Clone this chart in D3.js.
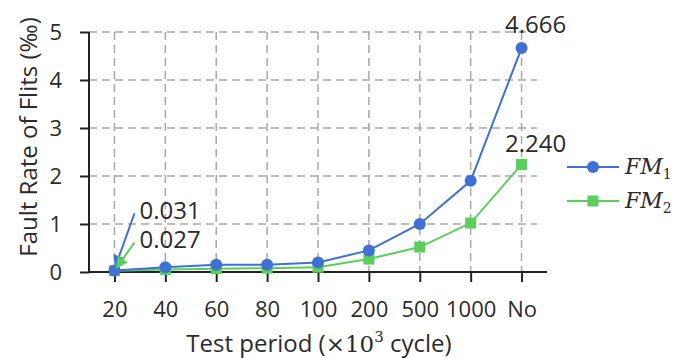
<!DOCTYPE html>
<html>
<head>
<meta charset="utf-8">
<script src="https://cdn.jsdelivr.net/npm/d3@7"></script>
<style>
  body { margin: 0; background: #fff; }
  .chart text { font-family: "Open Sans", sans-serif; fill: #2b2b2b; }
  .legend text { font-family: "DejaVu Serif", "Liberation Serif", serif; font-style: italic; }
</style>
</head>
<body>
<div class="chart"></div>
<script>
// data
var periods = ["20", "40", "60", "80", "100", "200", "500", "1000", "No"];
var fm1 = [0.031, 0.10, 0.15, 0.15, 0.20, 0.45, 1.00, 1.90, 4.666];
var fm2 = [0.027, 0.05, 0.07, 0.08, 0.10, 0.27, 0.52, 1.02, 2.240];
var yTicks = [0, 1, 2, 3, 4, 5];

var width = 688, height = 358;
var blue = "#3f70d6", green = "#5cce5c";

var svg = d3.select(".chart").append("svg").attr("width", width).attr("height", height);

var x = d3.scalePoint().domain(periods).range([89, 547]).padding(0.5);
var y = d3.scaleLinear().domain([0, 5]).range([272, 32]);

// grid
svg.append("g").selectAll("line").data(yTicks.slice(1)).enter().append("line")
    .attr("x1", 89).attr("x2", 537)
    .attr("y1", function (d) { return y(d); }).attr("y2", function (d) { return y(d); })
    .attr("stroke", "#a8a8a8").attr("stroke-width", 1.5).attr("stroke-dasharray", "8,5");
svg.append("g").selectAll("line").data(periods).enter().append("line")
    .attr("x1", function (d) { return x(d); }).attr("x2", function (d) { return x(d); })
    .attr("y1", y(5)).attr("y2", y(0))
    .attr("stroke", "#a8a8a8").attr("stroke-width", 1.5).attr("stroke-dasharray", "8,5");

// axes
var xAxis = svg.append("g").attr("transform", "translate(0," + y(0) + ")")
    .call(d3.axisBottom(x).tickSize(10).tickPadding(19));
var yAxis = svg.append("g").attr("transform", "translate(89,0)")
    .call(d3.axisLeft(y).tickValues(yTicks).tickFormat(d3.format("d")).tickSize(9).tickPadding(18));
[xAxis, yAxis].forEach(function (a) {
    a.select(".domain").remove();
    a.selectAll("line").attr("stroke", "#222").attr("stroke-width", 2);
    a.selectAll("text").attr("font-size", 22).attr("font-family", null);
});
svg.append("line").attr("x1", 89).attr("x2", 547).attr("y1", y(0)).attr("y2", y(0))
    .attr("stroke", "#222").attr("stroke-width", 2);
svg.append("line").attr("x1", 89).attr("x2", 89).attr("y1", y(5)).attr("y2", y(0))
    .attr("stroke", "#222").attr("stroke-width", 2);

// axis titles
var xt = svg.append("text").attr("x", 319).attr("y", 352).attr("text-anchor", "middle").attr("font-size", 24);
xt.append("tspan").text("Test period (");
xt.append("tspan").attr("font-family", "DejaVu Serif, serif").attr("font-size", 23).text("×10");
xt.append("tspan").attr("font-family", "DejaVu Serif, serif").attr("font-size", 15).attr("dy", -10).text("3");
xt.append("tspan").attr("dy", 10).text(" cycle)");

svg.append("text").attr("transform", "translate(37,137) rotate(-90)")
    .attr("text-anchor", "middle").attr("font-size", 24).text("Fault Rate of Flits (‰)");

// lines
var line = d3.line().x(function (d, i) { return x(periods[i]); }).y(function (d) { return y(d); });

svg.append("path").datum(fm2).attr("d", line).attr("fill", "none").attr("stroke", green).attr("stroke-width", 2);
svg.append("g").selectAll("rect").data(fm2).enter().append("rect")
    .attr("x", function (d, i) { return x(periods[i]) - 5.5; })
    .attr("y", function (d) { return y(d) - 5.5; })
    .attr("width", 11).attr("height", 11).attr("fill", green);

svg.append("path").datum(fm1).attr("d", line).attr("fill", "none").attr("stroke", blue).attr("stroke-width", 2);
svg.append("g").selectAll("circle").data(fm1).enter().append("circle")
    .attr("cx", function (d, i) { return x(periods[i]); })
    .attr("cy", function (d) { return y(d); })
    .attr("r", 6).attr("fill", blue);

// arrow markers
var defs = svg.append("defs");
[["arrowBlue", blue], ["arrowGreen", green]].forEach(function (m) {
    defs.append("marker").attr("id", m[0]).attr("viewBox", "0 0 10 10")
        .attr("refX", 9).attr("refY", 5).attr("markerWidth", 7).attr("markerHeight", 6)
        .attr("markerUnits", "strokeWidth")
        .attr("orient", "auto").append("path").attr("d", "M0,0L10,5L0,10z").attr("fill", m[1]);
});

var x0 = x(periods[0]), last = periods[periods.length - 1];
svg.append("line").attr("x1", x0 + 20).attr("y1", y(fm1[0]) - 57)
    .attr("x2", x0 + 1).attr("y2", y(fm1[0]) - 4)
    .attr("stroke", blue).attr("stroke-width", 2).attr("marker-end", "url(#arrowBlue)");
svg.append("line").attr("x1", x0 + 20).attr("y1", y(fm2[0]) - 28)
    .attr("x2", x0 + 2).attr("y2", y(fm2[0]) - 3)
    .attr("stroke", green).attr("stroke-width", 2).attr("marker-end", "url(#arrowGreen)");

// value labels
svg.append("text").attr("x", x0 + 25).attr("y", y(fm1[0]) - 52).attr("font-size", 24).text(fm1[0].toFixed(3));
svg.append("text").attr("x", x0 + 25).attr("y", y(fm2[0]) - 23).attr("font-size", 24).text(fm2[0].toFixed(3));
svg.append("text").attr("x", x(last) + 14).attr("y", y(fm1[8]) - 15).attr("text-anchor", "middle")
    .attr("font-size", 24).text(fm1[8].toFixed(3));
svg.append("text").attr("x", x(last) + 14).attr("y", y(fm2[8]) - 12).attr("text-anchor", "middle")
    .attr("font-size", 24).text(fm2[8].toFixed(3));

// legend
var legend = svg.append("g").attr("class", "legend");
[["1", blue, "circle"], ["2", green, "rect"]].forEach(function (s, i) {
    var ly = 167 + i * 34;
    legend.append("line").attr("x1", 567).attr("x2", 619).attr("y1", ly).attr("y2", ly)
        .attr("stroke", s[1]).attr("stroke-width", 2);
    if (s[2] == "circle") {
        legend.append("circle").attr("cx", 593).attr("cy", ly).attr("r", 6).attr("fill", s[1]);
    } else {
        legend.append("rect").attr("x", 587.5).attr("y", ly - 5.5).attr("width", 11).attr("height", 11).attr("fill", s[1]);
    }
    var t = legend.append("text").attr("x", 625).attr("y", ly + 7).attr("font-size", 22);
    t.append("tspan").text("FM");
    t.append("tspan").attr("font-size", 14).attr("dy", 5).attr("font-style", "normal").text(s[0]);
});
</script>
</body>
</html>
